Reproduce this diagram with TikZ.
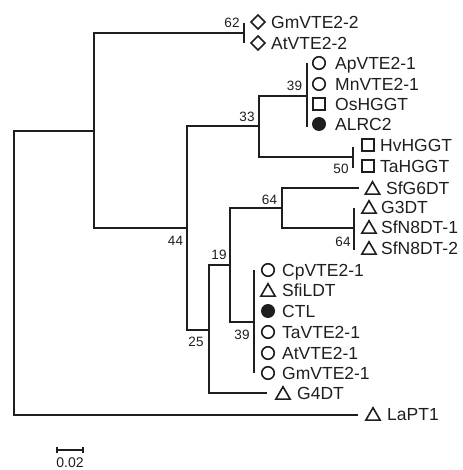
\documentclass[tikz,border=0pt]{standalone}
\usepackage{fontspec}
\setmainfont{Liberation Sans}
\usepackage{tikz}
\usetikzlibrary{shapes.geometric}
\definecolor{treeink}{RGB}{30,30,30}
\tikzset{
  branch/.style={draw=treeink, line width=2pt},
  taxlab/.style={anchor=west, inner sep=0pt, text=treeink, font=\fontsize{17.5}{17.5}\selectfont, text height=12.5pt, text depth=0pt},
  boot/.style={inner sep=0pt, text=treeink, font=\fontsize{13.5}{13.5}\selectfont, text height=9.7pt, text depth=0pt},
  circmark/.style={circle, draw=treeink, line width=1.6pt, minimum size=12.5pt, inner sep=0pt},
  dotmark/.style={circle, fill=treeink, minimum size=14pt, inner sep=0pt},
  sqmark/.style={rectangle, draw=treeink, line width=1.6pt, minimum size=11.5pt, inner sep=0pt},
  trimark/.style={regular polygon, regular polygon sides=3, draw=treeink, line width=1.6pt, minimum size=16.5pt, inner sep=0pt, yshift=-2pt},
  dmdmark/.style={diamond, draw=treeink, line width=1.6pt, minimum width=14.5pt, minimum height=14.5pt, inner sep=0pt},
}

\begin{document}
\begin{tikzpicture}[x=1pt, y=-1pt]
  \useasboundingbox (0,0) rectangle (462,470);
  % internal nodes of the tree
  \coordinate (root) at (14,273);
  \coordinate (n1) at (94,131);
  \coordinate (n62) at (244,33);
  \coordinate (n44) at (187,228);
  \coordinate (n33) at (259,126);
  \coordinate (n39a) at (307,96);
  \coordinate (n50) at (353,157);
  \coordinate (n25) at (209,330);
  \coordinate (n19) at (230,265);
  \coordinate (n64a) at (282,208);
  \coordinate (n64b) at (354,228);
  \coordinate (n39b) at (254,322);
  \coordinate (g4end) at (267,393);
  \coordinate (g6end) at (359,188);
  \coordinate (laend) at (358,415);
  % branches
  \draw[branch] (root) |- (n1);
  \draw[branch] (root) |- (laend);
  \draw[branch] (n1) |- (n62);
  \draw[branch] (n1) |- (n44);
  \draw[branch] (n44) |- (n33);
  \draw[branch] (n44) |- (n25);
  \draw[branch] (n33) |- (n39a);
  \draw[branch] (n33) |- (n50);
  \draw[branch] (n25) |- (n19);
  \draw[branch] (n25) |- (g4end);
  \draw[branch] (n19) |- (n64a);
  \draw[branch] (n19) |- (n39b);
  \draw[branch] (n64a) |- (g6end);
  \draw[branch] (n64a) |- (n64b);
  % collapsed clades
  \draw[branch] (n62) ++(0,-10) -- ++(0,20);
  \draw[branch] (n39a) ++(0,-33) -- ++(0,64);
  \draw[branch] (n50) ++(0,-10) -- ++(0,21);
  \draw[branch] (n64b) ++(0,-20) -- ++(0,42);
  \draw[branch] (n39b) ++(0,-52) -- ++(0,103);
  % bootstrap values
  \node[boot] (b62) at (232,23) {62};
  \node[boot] (b44) at (175.5,240.5) {44};
  \node[boot] (b33) at (247,116.5) {33};
  \node[boot] (b39a) at (294.5,86) {39};
  \node[boot] (b50) at (341,169) {50};
  \node[boot] (b25) at (196,342) {25};
  \node[boot] (b19) at (219,255) {19};
  \node[boot] (b64a) at (269.5,199.5) {64};
  \node[boot] (b64b) at (343,242) {64};
  \node[boot] (b39b) at (242,335) {39};
  % taxa
  \node[dmdmark] (gm2s) at (258,22) {};
  \node[taxlab] (gm2) at (271,22) {GmVTE2-2};
  \node[dmdmark] (at2s) at (258,43) {};
  \node[taxlab] (at2) at (271,43) {AtVTE2-2};
  \node[circmark] (ap1s) at (319,63) {};
  \node[taxlab] (ap1) at (335,63) {ApVTE2-1};
  \node[circmark] (mn1s) at (319,84) {};
  \node[taxlab] (mn1) at (335,84) {MnVTE2-1};
  \node[sqmark] (oss) at (319,104) {};
  \node[taxlab] (os) at (335,104) {OsHGGT};
  \node[dotmark] (alrcs) at (319,124) {};
  \node[taxlab] (alrc) at (335,124) {ALRC2};
  \node[sqmark] (hvs) at (368,145) {};
  \node[taxlab] (hv) at (380,145) {HvHGGT};
  \node[sqmark] (tas) at (368,166) {};
  \node[taxlab] (ta) at (380,166) {TaHGGT};
  \node[trimark] (g6s) at (372.5,188) {};
  \node[taxlab] (g6) at (386,188) {SfG6DT};
  \node[trimark] (g3s) at (369,207) {};
  \node[taxlab] (g3) at (381,207) {G3DT};
  \node[trimark] (n8as) at (369,227) {};
  \node[taxlab] (n8a) at (381,227) {SfN8DT-1};
  \node[trimark] (n8bs) at (369,248) {};
  \node[taxlab] (n8b) at (381,248) {SfN8DT-2};
  \node[circmark] (cp1s) at (268,270) {};
  \node[taxlab] (cp1) at (282,270) {CpVTE2-1};
  \node[trimark] (sfis) at (268,290) {};
  \node[taxlab] (sfi) at (282,290) {SfiLDT};
  \node[dotmark] (ctls) at (268,311) {};
  \node[taxlab] (ctl) at (282,311) {CTL};
  \node[circmark] (ta1s) at (268,332) {};
  \node[taxlab] (ta1) at (282,332) {TaVTE2-1};
  \node[circmark] (at1s) at (268,353) {};
  \node[taxlab] (at1) at (282,353) {AtVTE2-1};
  \node[circmark] (gm1s) at (268,373) {};
  \node[taxlab] (gm1) at (282,373) {GmVTE2-1};
  \node[trimark] (g4s) at (283,393) {};
  \node[taxlab] (g4) at (297,393) {G4DT};
  \node[trimark] (las) at (373,414) {};
  \node[taxlab] (la) at (387,414) {LaPT1};
  % scale bar
  \coordinate (sbl) at (57,450);
  \coordinate (sbr) at (83,450);
  \draw[treeink, line width=1.4pt] (sbl) -- (sbr);
  \draw[treeink, line width=1.4pt] (sbl) ++(0,-3) -- ++(0,6);
  \draw[treeink, line width=1.4pt] (sbr) ++(0,-3) -- ++(0,6);
  \node[boot, font=\fontsize{14}{14}\selectfont, text height=10pt] (sblab) at (70,462.5) {0.02};
\end{tikzpicture}
\end{document}
